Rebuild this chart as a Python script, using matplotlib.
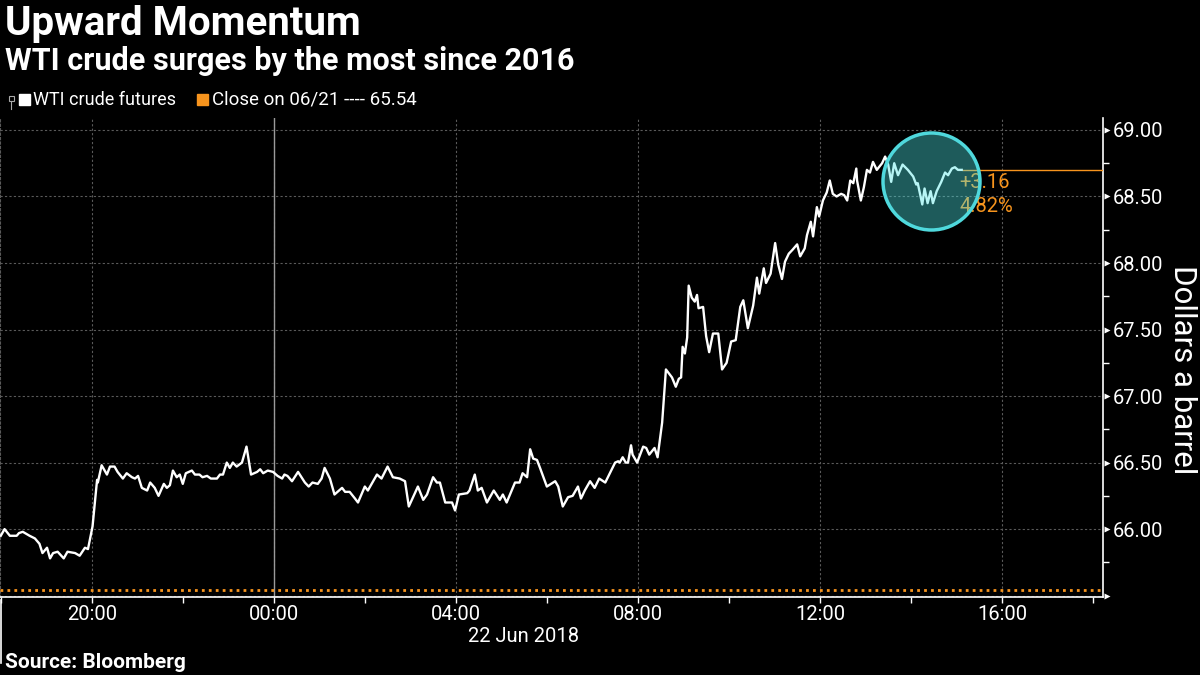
import matplotlib.pyplot as plt
import matplotlib.dates as mdates
import pandas as pd
from matplotlib.patches import Ellipse, Rectangle
from matplotlib.lines import Line2D
from matplotlib.ticker import MultipleLocator, FuncFormatter

plt.rcParams["font.family"] = ["Roboto", "DejaVu Sans"]

# minutes after 18:00 on 21 Jun 2018
minutes = [
    0, 5, 12, 21, 24, 29, 38, 45, 51, 55, 61, 65, 69, 75, 83, 88, 98, 104, 111, 115,
    121, 127, 128, 133, 140, 144, 150, 154, 161, 166, 173, 177, 181, 186, 193, 197,
    203, 208, 215, 219, 223, 227, 232, 236, 240, 244, 252, 256, 262, 266, 272, 277,
    285, 289, 293, 298, 302, 306, 311, 318, 324, 330, 338, 342, 346, 352, 359,
    365, 371, 374, 378, 384, 392, 401, 406, 411, 418, 423, 427, 434, 440, 450, 454,
    460, 467, 471, 480, 484, 496, 502, 510, 517, 526, 533, 538, 550, 557, 562, 570,
    575, 579, 586, 595, 599, 604, 615, 618, 625, 629, 634, 641, 650, 658, 662, 667,
    678, 684, 688, 694, 698, 702, 707, 711, 720, 731, 735, 741, 748,
    754, 761, 765, 770, 777, 783, 789, 797, 810, 814, 816, 820, 824, 827, 831, 833,
    839, 847, 851, 855, 862, 866, 872, 877, 885, 890, 894, 897, 899, 902, 905, 907,
    911, 915, 918, 920, 926, 930, 934, 939, 946, 951, 957, 963, 969, 975, 979, 985,
    992, 997, 1000, 1006, 1009, 1015, 1021, 1025, 1030, 1034, 1039, 1044, 1050, 1054,
    1060, 1063, 1068, 1071, 1076, 1079, 1084, 1089, 1093, 1097, 1102, 1108, 1112,
    1116, 1120, 1124, 1128, 1129, 1134, 1138, 1142, 1146, 1150, 1155, 1162, 1166,
    1170, 1174, 1178, 1183, 1189, 1196, 1203, 1207, 1209, 1215, 1218, 1222, 1226,
    1229, 1234, 1240, 1245, 1249, 1254, 1258, 1262, 1267,
]
prices = [
    65.95, 66.00, 65.95, 65.95, 65.97, 65.98, 65.95, 65.93, 65.89, 65.82, 65.86, 65.78,
    65.82, 65.83, 65.78, 65.83, 65.82, 65.80, 65.86, 65.85,
    66.02, 66.37, 66.35, 66.48, 66.41, 66.47, 66.47, 66.43, 66.38, 66.42, 66.39, 66.38,
    66.40, 66.31, 66.29, 66.35, 66.31, 66.25, 66.34, 66.31, 66.33, 66.44, 66.39, 66.41,
    66.34, 66.42, 66.44, 66.41, 66.41, 66.39, 66.40, 66.38, 66.38, 66.41, 66.41, 66.50,
    66.46, 66.50, 66.47, 66.50, 66.62, 66.41, 66.43, 66.45, 66.42, 66.44, 66.43,
    66.40, 66.38, 66.41, 66.40, 66.36, 66.43, 66.35, 66.32, 66.35, 66.34, 66.38, 66.46,
    66.38, 66.26, 66.31, 66.28, 66.28, 66.23, 66.20, 66.32, 66.29, 66.41, 66.38, 66.47,
    66.39, 66.38, 66.36, 66.17, 66.32, 66.22, 66.26, 66.39, 66.35, 66.35, 66.20, 66.20,
    66.14, 66.26, 66.27, 66.29, 66.41, 66.29, 66.31, 66.20, 66.29, 66.22, 66.26, 66.20,
    66.35, 66.35, 66.42, 66.39, 66.60, 66.53, 66.52, 66.46, 66.32, 66.36, 66.32, 66.17,
    66.24,
    66.25, 66.32, 66.23, 66.29, 66.36, 66.31, 66.38, 66.35, 66.50, 66.51, 66.50, 66.54,
    66.50, 66.50, 66.63, 66.56, 66.50, 66.62, 66.61, 66.56, 66.61, 66.54, 66.80, 67.20,
    67.14, 67.07, 67.13, 67.14, 67.37, 67.32, 67.44, 67.83, 67.74, 67.71, 67.76, 67.66,
    67.67, 67.45, 67.33, 67.47, 67.47, 67.20, 67.25, 67.41, 67.42, 67.67, 67.72, 67.51,
    67.68, 67.89, 67.77, 67.96, 67.85, 67.92, 68.15, 67.99, 67.88, 68.01, 68.07, 68.10,
    68.14, 68.05, 68.11, 68.21, 68.31, 68.20, 68.42, 68.35, 68.47, 68.53, 68.62, 68.52,
    68.50, 68.52, 68.51, 68.47, 68.62, 68.60, 68.71, 68.62, 68.47, 68.57, 68.70, 68.68,
    68.76, 68.70, 68.75, 68.80, 68.74, 68.61, 68.75, 68.66, 68.74, 68.70, 68.65, 68.59,
    68.60, 68.44, 68.56, 68.45, 68.54, 68.45, 68.54, 68.61, 68.68, 68.66, 68.71, 68.72,
    68.70, 68.70,
]
close_prev = 65.54

start = pd.Timestamp("2018-06-21 18:00")
times = start + pd.to_timedelta(minutes, unit="m")
x_min = start - pd.Timedelta(minutes=1)
x_max = start + pd.Timedelta(minutes=1453)

orange = "#f7941d"
grid_c = "#5a5a5a"

fig = plt.figure(figsize=(12, 6.75), dpi=100, facecolor="black")
ax = fig.add_axes([0.0, 0.1156, 0.919, 0.7096], facecolor="black")

ax.plot(times, prices, color="white", lw=1.7, zorder=4)
ax.axhline(close_prev, color=orange, lw=2, ls=(0, (1, 1.5)), zorder=3)
ax.hlines(prices[-1], times[-1], x_max, color=orange, lw=1, zorder=3)

ax.set_xlim(x_min, x_max)
ax.set_ylim(65.49, 69.09)

# axes styling
ax.spines["top"].set_visible(False)
ax.spines["left"].set_color(grid_c)
ax.spines["left"].set_linestyle((0, (2, 2)))
ax.spines["bottom"].set_color("white")
ax.spines["right"].set_color("white")
ax.spines["bottom"].set_linewidth(1.2)
ax.spines["right"].set_linewidth(1.2)

ax.xaxis.set_major_locator(mdates.HourLocator(byhour=range(0, 24, 4)))
ax.xaxis.set_minor_locator(mdates.HourLocator(byhour=range(2, 24, 4)))
ax.xaxis.set_major_formatter(mdates.DateFormatter("%H:%M"))
ax.tick_params(axis="x", which="both", colors="white", length=4, width=1,
               labelsize=14.5, pad=2)

ax.yaxis.tick_right()
ax.yaxis.set_major_locator(MultipleLocator(0.5))
ax.yaxis.set_minor_locator(MultipleLocator(0.25))
ax.yaxis.set_major_formatter(FuncFormatter(lambda v, p: "" if v < 65.75 else f"{v:.2f}"))
ax.tick_params(axis="y", which="major", colors="white", length=0, labelsize=14.5, pad=7)
ax.tick_params(axis="y", which="minor", colors="white", length=4, width=1)

ax.grid(axis="y", which="major", color=grid_c, ls=(0, (2, 2)), lw=0.8)
ax.grid(axis="x", which="major", color=grid_c, ls=(0, (2, 2)), lw=0.8)
ax.axvline(pd.Timestamp("2018-06-22 00:00"), color="#9a9a9a", lw=1, zorder=2)

# arrow markers on the value axis
for v in [65.5, 66.0, 66.5, 67.0, 67.5, 68.0, 68.5, 69.0]:
    ax.plot([1.004], [v], marker=">", color="white", ms=5, mec="none",
            transform=ax.get_yaxis_transform(), clip_on=False, zorder=6)

# change annotation
chg = prices[-1] - close_prev
pct = chg / close_prev * 100
ax.annotate(f"+{chg:.2f}", (times[-1], prices[-1]), xytext=(-2, -13),
            textcoords="offset pixels", color=orange, fontsize=14.5, va="center", zorder=5)
ax.annotate(f"{pct:.2f}%", (times[-1], prices[-1]), xytext=(-2, -37),
            textcoords="offset pixels", color=orange, fontsize=14.5, va="center", zorder=5)

# highlight circle
circ = Ellipse((931.5 / 1200, 1 - 181.5 / 675), 97 / 1200, 97 / 675,
               transform=fig.transFigure, facecolor=(0.3, 0.9, 0.9, 0.4),
               edgecolor="#4fd8dc", lw=2.5, zorder=10)
fig.add_artist(circ)

# titles
fig.text(0.004, 0.965, "Upward Momentum", color="white", fontsize=29,
         fontweight="bold", va="center", ha="left")
fig.text(0.004, 0.910, "WTI crude surges by the most since 2016", color="white",
         fontsize=22, fontweight="bold", va="center", ha="left")

# legend
ly = 1 - 100 / 675
fig.add_artist(Rectangle((8.5 / 1200, 1 - 101 / 675), 5 / 1200, 5 / 675,
                         transform=fig.transFigure, fill=False, ec="#aaaaaa", lw=0.8))
fig.add_artist(Line2D([11 / 1200, 11 / 1200], [1 - 101 / 675, 1 - 109 / 675],
                      transform=fig.transFigure, color="#aaaaaa", lw=0.8))
fig.add_artist(Rectangle((19 / 1200, 1 - 105 / 675), 11 / 1200, 11 / 675,
                         transform=fig.transFigure, color="white"))
fig.text(33 / 1200, ly, "WTI crude futures", color="white", fontsize=13, va="center")
fig.add_artist(Rectangle((197 / 1200, 1 - 105 / 675), 11 / 1200, 11 / 675,
                         transform=fig.transFigure, color=orange))
fig.text(212 / 1200, ly, f"Close on 06/21 ---- {close_prev:.2f}", color="white",
         fontsize=13.5, va="center")

# date label and day separator below axis
fig.text(523 / 1200, 1 - 636 / 675, "22 Jun 2018", color="white", fontsize=14.5,
         ha="center", va="center")
fig.add_artist(Line2D([1 / 1200, 1 / 1200], [1 - 600 / 675, 1 - 663 / 675],
                      transform=fig.transFigure, color="white", lw=1.2))

fig.text(1183 / 1200, 1 - 370 / 675, "Dollars a barrel", color="white", fontsize=22.5,
         rotation=270, ha="center", va="center")

fig.text(0.004, 1 - 663 / 675, "Source: Bloomberg", color="white", fontsize=15,
         fontweight="bold", va="center", ha="left")

fig.savefig("out.png", dpi=100, facecolor="black")
